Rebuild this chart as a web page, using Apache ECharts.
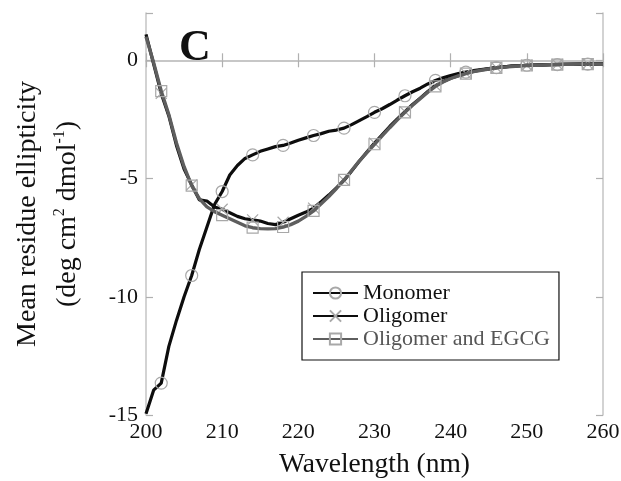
<!DOCTYPE html>
<html>
<head>
<meta charset="utf-8">
<script src="https://cdn.jsdelivr.net/npm/echarts@6/dist/echarts.min.js"></script>
<style>html,body{margin:0;padding:0;background:#fff}#c{width:621px;height:481px}</style>
</head>
<body>
<div id="c"></div>
<script>
var wavelength = [200,201,202,203,204,205,206,207,208,209,210,211,212,213,214,215,216,217,218,219,220,221,222,223,224,225,226,227,228,229,230,231,232,233,234,235,236,237,238,239,240,241,242,243,244,245,246,247,248,249,250,251,252,253,254,255,256,257,258,259,260];
var monomer = [-14.95,-13.95,-13.65,-12.1,-11.0,-10.0,-9.1,-8.0,-7.05,-6.1,-5.55,-4.85,-4.45,-4.15,-4.0,-3.85,-3.75,-3.65,-3.6,-3.5,-3.38,-3.28,-3.18,-3.1,-3.0,-2.95,-2.87,-2.72,-2.55,-2.38,-2.2,-2.05,-1.87,-1.68,-1.5,-1.33,-1.18,-1.0,-0.85,-0.74,-0.64,-0.56,-0.5,-0.44,-0.39,-0.35,-0.31,-0.28,-0.25,-0.23,-0.21,-0.2,-0.19,-0.18,-0.18,-0.17,-0.17,-0.16,-0.16,-0.15,-0.15];
var oligomer = [1.1,-0.15,-1.4,-2.35,-3.6,-4.6,-5.27,-5.9,-5.95,-6.2,-6.3,-6.45,-6.6,-6.7,-6.75,-6.8,-6.9,-6.95,-6.85,-6.7,-6.55,-6.42,-6.25,-5.98,-5.7,-5.4,-5.08,-4.68,-4.27,-3.88,-3.5,-3.15,-2.8,-2.48,-2.17,-1.87,-1.6,-1.32,-1.07,-0.9,-0.76,-0.65,-0.55,-0.47,-0.41,-0.36,-0.31,-0.28,-0.25,-0.23,-0.21,-0.2,-0.19,-0.18,-0.17,-0.17,-0.16,-0.16,-0.15,-0.15,-0.14];
var oligomerEGCG = [1.0,-0.1,-1.3,-2.3,-3.5,-4.5,-5.3,-5.85,-6.2,-6.4,-6.55,-6.7,-6.85,-7.0,-7.08,-7.12,-7.13,-7.12,-7.05,-6.95,-6.8,-6.6,-6.37,-6.07,-5.76,-5.42,-5.06,-4.66,-4.26,-3.9,-3.55,-3.2,-2.85,-2.52,-2.2,-1.9,-1.62,-1.35,-1.1,-0.92,-0.77,-0.66,-0.56,-0.48,-0.42,-0.37,-0.32,-0.29,-0.26,-0.24,-0.22,-0.21,-0.2,-0.19,-0.18,-0.17,-0.17,-0.16,-0.16,-0.15,-0.15];
var markerWavelengths = [202,206,210,214,218,222,226,230,234,238,242,246,250,254,258];
var seriesNames = ['Monomer','Oligomer','Oligomer and EGCG'];
var xTicks = [200,210,220,230,240,250,260];
var yTicks = [-15,-10,-5,0];

var FONT = '"Liberation Serif", "Times New Roman", serif';
function build(vals) {
  return wavelength.map(function (w, i) {
    var item = { value: [w, vals[i]] };
    if (markerWavelengths.indexOf(w) < 0) item.symbol = 'none';
    return item;
  });
}
var markerStyle = { color: 'rgba(0,0,0,0)', borderColor: '#a8a8a8', borderWidth: 1.2 };
var chart = echarts.init(document.getElementById('c'));
var axisLine = { show: true, lineStyle: { color: '#c4c4c4', width: 1.5 } };
var axisTick = { show: true, inside: true, length: 7, lineStyle: { color: '#b0b0b0', width: 1.2 } };
chart.setOption({
  animation: false,
  backgroundColor: '#fff',
  grid: { left: 146, right: 18, top: 13, bottom: 66, containLabel: false, outerBoundsMode: 'none' },
  xAxis: [{
    type: 'value', min: 200, max: 260, interval: 10, position: 'bottom',
    axisLine: axisLine, axisTick: axisTick, splitLine: { show: false },
    axisLabel: { color: '#111', fontFamily: FONT, fontSize: 22, margin: 6,
      formatter: function (v) { return xTicks.indexOf(v) >= 0 ? String(v) : ''; } },
    name: 'Wavelength (nm)', nameLocation: 'middle', nameGap: 36,
    nameTextStyle: { color: '#111', fontFamily: FONT, fontSize: 27.5 }
  }, {
    type: 'value', min: 200, max: 260, interval: 10, position: 'top',
    axisLine: axisLine, axisTick: axisTick, axisLabel: { show: false }, splitLine: { show: false }
  }],
  yAxis: [{
    type: 'value', min: -15, max: 2, interval: 5, position: 'left',
    axisLine: axisLine, axisTick: axisTick, splitLine: { show: false },
    axisLabel: { color: '#111', fontFamily: FONT, fontSize: 22, margin: 8,
      formatter: function (v) { return yTicks.indexOf(v) >= 0 ? String(v) : ''; } },
    name: '{t|Mean residue ellipticity}\n{t|(deg cm}{s|2}{t| dmol}{s|-1}{t|)}',
    nameLocation: 'middle', nameRotate: 90, nameGap: 58,
    nameTextStyle: { color: '#111', fontFamily: FONT, fontSize: 28, lineHeight: 40,
      rich: {
        t: { fontFamily: FONT, fontSize: 28, color: '#111', lineHeight: 40 },
        s: { fontFamily: FONT, fontSize: 16, color: '#111', lineHeight: 40, padding: [0, 0, 16, 0] }
      } }
  }, {
    type: 'value', min: -15, max: 2, interval: 5, position: 'right',
    axisLine: axisLine, axisTick: axisTick, axisLabel: { show: false }, splitLine: { show: false }
  }],
  legend: {
    orient: 'vertical', left: 302, top: 272,
    itemWidth: 45, itemHeight: 14, itemGap: 1,
    padding: [10, 9, 10, 10],
    borderColor: '#111', borderWidth: 1.2, backgroundColor: '#fff',
    textStyle: { fontFamily: FONT, fontSize: 22, lineHeight: 22, color: '#111' },
    data: [
      { name: seriesNames[0] },
      { name: seriesNames[1] },
      { name: seriesNames[2], textStyle: { color: '#555' } }
    ]
  },
  graphic: [{
    type: 'text', left: 179, top: 27,
    style: { text: 'C', fontFamily: FONT, fontSize: 44, fontWeight: 'bold', fill: '#111' }
  }],
  series: [{
    name: seriesNames[0], type: 'line', data: build(monomer),
    symbol: 'circle', symbolSize: 12, showAllSymbol: true,
    lineStyle: { color: '#0d0d0d', width: 3.2 }, itemStyle: markerStyle, z: 2
  }, {
    name: seriesNames[1], type: 'line', data: build(oligomer),
    symbol: 'path://M0,0L10,10M10,0L0,10', symbolSize: 11, showAllSymbol: true,
    lineStyle: { color: '#0d0d0d', width: 3.2 }, itemStyle: markerStyle, z: 3
  }, {
    name: seriesNames[2], type: 'line', data: build(oligomerEGCG),
    symbol: 'rect', symbolSize: 11, showAllSymbol: true,
    lineStyle: { color: '#5e5e5e', width: 3.4 }, itemStyle: markerStyle, z: 4
  }]
});
</script>
</body>
</html>
